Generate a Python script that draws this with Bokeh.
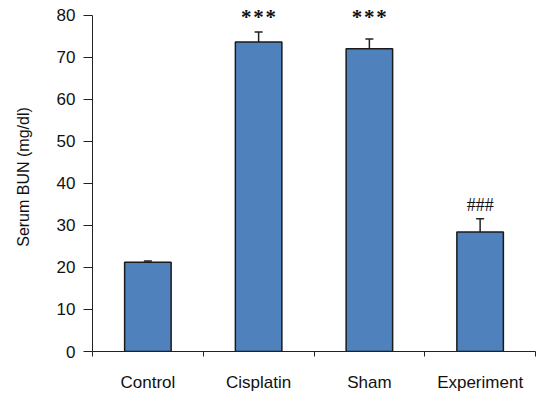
from bokeh.plotting import figure
from bokeh.models import ColumnDataSource, Range1d, FixedTicker, Whisker, TeeHead, LabelSet
from bokeh.embed import file_html
from bokeh.resources import INLINE

categories = ["Control", "Cisplatin", "Sham", "Experiment"]
bun_mean = [21.2, 73.6, 72.0, 28.4]
bun_err = [0.3, 2.4, 2.3, 3.2]
STARS = "*\u200a*\u200a*"
sig_text = ["", STARS, STARS, "###"]
sig_y = [0, 78.0, 78.0, 33.4]
y_ticks = [0, 10, 20, 30, 40, 50, 60, 70, 80]

xs = [i + 0.5 for i in range(len(categories))]
sig_style = {"": ("17px", "normal"), STARS: ("21px", "bold"), "###": ("18px", "normal")}
src = ColumnDataSource(dict(
    x=xs, mean=bun_mean,
    upper=[m + e for m, e in zip(bun_mean, bun_err)],
    txt=sig_text, ty=sig_y,
    fs=[sig_style[t][0] for t in sig_text],
    fw=[sig_style[t][1] for t in sig_text],
))

FONT = "Liberation Sans"
p = figure(width=536, height=394, output_backend="svg", toolbar_location=None,
           x_range=Range1d(0, len(categories)), y_range=Range1d(0, 83),
           min_border_left=92, min_border_right=1, min_border_top=2, min_border_bottom=42)
p.outline_line_color = None
p.xgrid.visible = False
p.ygrid.visible = False
p.background_fill_color = "white"

p.vbar(x="x", top="mean", bottom=0, width=0.42, source=src,
       fill_color="#4F81BD", line_color="#1a1a1a", line_width=1.5)

w = Whisker(source=src, base="x", lower="mean", upper="upper",
            line_color="#222222", line_width=1.5,
            upper_head=TeeHead(size=8, line_color="#222222", line_width=1.5),
            lower_head=None)
p.add_layout(w)

labels = LabelSet(x="x", y="ty", text="txt", source=src, text_align="center",
                  text_baseline="alphabetic", text_font=FONT, text_font_size="fs",
                  text_font_style="fw", text_color="#111111")
p.add_layout(labels)

# y axis
p.yaxis.ticker = FixedTicker(ticks=y_ticks)
p.yaxis.bounds = (y_ticks[0], y_ticks[-1])
p.yaxis.axis_label = "Serum BUN (mg/dl)"
p.yaxis.axis_label_text_font = FONT
p.yaxis.axis_label_text_font_size = "16px"
p.yaxis.axis_label_text_font_style = "normal"
p.yaxis.axis_label_text_color = "#111111"
p.yaxis.axis_label_standoff = 22
p.yaxis.major_label_text_font = FONT
p.yaxis.major_label_text_font_size = "17px"
p.yaxis.major_label_text_color = "#111111"
p.yaxis.major_tick_out = 9
p.yaxis.major_tick_in = 0
p.yaxis.minor_tick_line_color = None
p.yaxis.major_label_standoff = 8
p.yaxis.axis_line_color = "#222222"
p.yaxis.major_tick_line_color = "#222222"

# x axis
p.xaxis.ticker = FixedTicker(ticks=xs, minor_ticks=list(range(len(categories) + 1)))
p.xaxis.major_label_overrides = {x: c for x, c in zip(xs, categories)}
p.xaxis.major_tick_line_color = None
p.xaxis.major_tick_out = 0
p.xaxis.major_tick_in = 0
p.xaxis.minor_tick_out = 5
p.xaxis.minor_tick_in = 0
p.xaxis.minor_tick_line_color = "#222222"
p.xaxis.major_label_standoff = 16
p.xaxis.major_label_text_font = FONT
p.xaxis.major_label_text_font_size = "17px"
p.xaxis.major_label_text_color = "#111111"
p.xaxis.axis_line_color = "#222222"

open("out.html", "w").write(file_html(p, INLINE))
